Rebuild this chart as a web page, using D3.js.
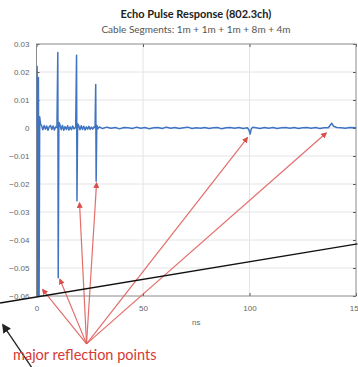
<!DOCTYPE html>
<html>
<head>
<meta charset="utf-8">
<script src="https://cdn.jsdelivr.net/npm/d3@7"></script>
<style>
  html, body { margin: 0; padding: 0; background: #fff; }
  svg { display: block; }
</style>
</head>
<body>
<div id="chart"></div>
<script>
// Echo response samples: time in ns, amplitude
const timeNs = [
  0, 0.3, 0.6, 0.9, 1.2, 1.5, 1.9, 2.4, 3, 3.6, 4.2, 4.8, 5.4, 6, 6.6, 7.2, 7.8, 8.4, 9, 9.6,
  10, 10.2, 10.5, 11, 11.6, 12.2, 12.8, 13.4, 14, 14.6, 15.2, 15.8, 16.4, 17, 17.6, 18.4,
  18.8, 19.0, 19.3, 19.8, 20.4, 21, 21.6, 22.2, 22.8, 23.4, 24, 24.6, 25.2, 25.8, 26.4, 27, 27.5,
  27.8, 28.0, 28.3, 28.8, 29.5, 31, 33, 35, 37, 39, 41, 43, 45, 47, 49, 51, 53, 55, 57, 59,
  61, 63, 65, 67, 69, 71, 73, 75, 77, 79, 81, 83, 85, 87, 89, 91, 93, 95, 97, 99,
  99.8, 100.3, 100.8, 101.5, 103, 105, 107, 109, 111, 113, 115, 117, 119, 121, 123, 125,
  127, 129, 131, 133, 135, 137, 137.8, 138.6, 139.5, 141, 143, 145, 147, 150
];
const amplitude = [
  0, 0.022, -0.066, 0.018, -0.066, 0.004, 0.0015, 0.0008, -0.0006, 0.0009, -0.0004, 0.0007, -0.0008, 0.0005, 0.0009, -0.0005, 0.0007, -0.0007, 0.0004, 0.0002,
  0.027, -0.0535, 0.002, 0.0012, -0.0006, 0.0009, -0.0008, 0.0005, -0.0005, 0.0008, -0.0007, 0.0004, -0.0006, 0.0007, -0.0003, 0.0002,
  0.026, -0.026, 0.0015, 0.0009, -0.0006, 0.0008, -0.0005, 0.0006, -0.0007, 0.0004, -0.0004, 0.0006, -0.0005, 0.0003, -0.0004, 0.0004, 0.0001,
  0.0155, -0.019, 0.001, -0.0003, 0.0004, -0.0002, 0.0003, -0.0001, 0.0002, -0.0003, 0.0002, 0.0001, -0.0002, 0.0003, -0.0001, 0.0002, -0.0003, 0.0001, 0.0002, -0.0002,
  0.0003, -0.0001, 0.0002, -0.0002, 0.0001, 0.0003, -0.0002, 0.0001, -0.0001, 0.0002, -0.0002, 0.0001, 0.0002, -0.0003, 0.0001, 0.0002, -0.0001, 0.0002, -0.0002, 0.0001,
  -0.0008, -0.0022, -0.0004, 0.0003, 0.0001, -0.0002, 0.0002, -0.0001, 0.0002, -0.0002, 0.0001, 0.0002, -0.0001, 0.0002, -0.0002, 0.0001,
  0.0002, -0.0001, 0.0002, -0.0002, 0.0001, 0.0001, 0.0009, 0.0017, 0.0006, 0.0002, 0.0001, -0.0001, 0.0002, 0.0001
];

const xTicks = [0, 50, 100, 150];
const yTicks = [-0.06, -0.05, -0.04, -0.03, -0.02, -0.01, 0, 0.01, 0.02, 0.03];

// Annotation arrows (data units): tips near each reflection, shared origin below the axis
const arrowOrigin = [23.5, -0.0771];
const arrowTips = [[2.9, -0.0577], [11, -0.0541], [20.2, -0.0268], [28.2, -0.0197], [99, -0.0035], [136, -0.0018]];
const blackLine = [[-17.1, -0.0625], [150.7, -0.0414]];
const blackArrow = [[-2.1, -0.0857], [-15.7, -0.0704]];

const W = 358, H = 367;
const margin = { top: 44, right: 2, bottom: 71, left: 36.5 };

const svg = d3.select('#chart').append('svg')
  .attr('width', W).attr('height', H);

const x = d3.scaleLinear().domain([0, 150]).range([margin.left, W - margin.right]);
const y = d3.scaleLinear().domain([-0.06, 0.03]).range([H - margin.bottom, margin.top]);

const defs = svg.append('defs');
defs.append('clipPath').attr('id', 'plot-clip')
  .append('rect')
  .attr('x', x(0)).attr('y', y(0.03))
  .attr('width', x(150) - x(0)).attr('height', y(-0.06) - y(0.03));

['red', 'black'].forEach(c => {
  defs.append('marker')
    .attr('id', 'head-' + c)
    .attr('viewBox', '0 0 10 10')
    .attr('refX', 8).attr('refY', 5)
    .attr('markerWidth', c === 'red' ? 5 : 7)
    .attr('markerHeight', c === 'red' ? 5 : 7)
    .attr('orient', 'auto')
    .append('path')
    .attr('d', 'M0,0 L10,5 L0,10 z')
    .attr('fill', c === 'red' ? '#d63a35' : '#222');
});

// grid
svg.append('g')
  .selectAll('line')
  .data(xTicks.slice(1, -1))
  .join('line')
  .attr('x1', d => x(d)).attr('x2', d => x(d))
  .attr('y1', y(0.03)).attr('y2', y(-0.06))
  .attr('stroke', '#e4e4e4').attr('stroke-width', 1);

svg.append('g')
  .selectAll('line')
  .data(yTicks.slice(1, -1))
  .join('line')
  .attr('x1', x(0)).attr('x2', x(150))
  .attr('y1', d => y(d)).attr('y2', d => y(d))
  .attr('stroke', '#e4e4e4').attr('stroke-width', 1);

// axes (inner ticks, Matlab style)
const axisStyle = g => {
  g.select('.domain').remove();
  g.selectAll('line').attr('stroke', '#555');
  g.selectAll('text').attr('fill', '#666').attr('font-size', '8px')
    .attr('font-family', 'Liberation Sans, Arial, sans-serif');
};

svg.append('g')
  .attr('transform', `translate(0,${y(-0.06)})`)
  .call(d3.axisBottom(x).tickValues(xTicks).tickSize(-3).tickPadding(9).tickFormat(d3.format('d')))
  .call(axisStyle);

svg.append('g')
  .attr('transform', `translate(0,${y(0.03)})`)
  .call(d3.axisTop(x).tickValues(xTicks).tickSize(-3).tickFormat(''))
  .call(axisStyle);

svg.append('g')
  .attr('transform', `translate(${x(0)},0)`)
  .call(d3.axisLeft(y).tickValues(yTicks).tickSize(-3).tickPadding(7).tickFormat(d => d === 0 ? '0' : d3.format('.2f')(d)))
  .call(axisStyle);

svg.append('g')
  .attr('transform', `translate(${x(150)},0)`)
  .call(d3.axisRight(y).tickValues(yTicks).tickSize(-3).tickFormat(''))
  .call(axisStyle);

// frame
svg.append('rect')
  .attr('x', x(0)).attr('y', y(0.03))
  .attr('width', x(150) - x(0)).attr('height', y(-0.06) - y(0.03))
  .attr('fill', 'none').attr('stroke', '#8a8a8a').attr('stroke-width', 1);

// echo trace
const points = timeNs.map((t, i) => [t, amplitude[i]]);
svg.append('path')
  .datum(points)
  .attr('clip-path', 'url(#plot-clip)')
  .attr('fill', 'none')
  .attr('stroke', '#3f74c2')
  .attr('stroke-width', 1.5)
  .attr('stroke-linejoin', 'round')
  .attr('d', d3.line().x(d => x(d[0])).y(d => y(d[1])));

// titles
svg.append('text')
  .attr('x', 196).attr('y', 18)
  .attr('text-anchor', 'middle')
  .attr('font-family', 'Lato, sans-serif').attr('font-weight', 'bold')
  .attr('font-size', '11px').attr('fill', '#222')
  .text('Echo Pulse Response (802.3ch)');

svg.append('text')
  .attr('x', 196).attr('y', 33)
  .attr('text-anchor', 'middle')
  .attr('font-family', 'Lato, sans-serif')
  .attr('font-size', '10px').attr('fill', '#555')
  .text('Cable Segments: 1m + 1m + 1m + 8m + 4m');

svg.append('text')
  .attr('x', (x(0) + x(150)) / 2).attr('y', 325)
  .attr('text-anchor', 'middle')
  .attr('font-family', 'Liberation Sans, Arial, sans-serif')
  .attr('font-size', '8px').attr('fill', '#666')
  .text('ns');

// annotations
svg.append('g')
  .selectAll('line')
  .data(arrowTips)
  .join('line')
  .attr('x1', x(arrowOrigin[0])).attr('y1', y(arrowOrigin[1]))
  .attr('x2', d => x(d[0])).attr('y2', d => y(d[1]))
  .attr('stroke', '#e0605c').attr('stroke-width', 1.2).attr('opacity', 0.9)
  .attr('marker-end', 'url(#head-red)');

svg.append('line')
  .attr('x1', x(blackLine[0][0])).attr('y1', y(blackLine[0][1]))
  .attr('x2', x(blackLine[1][0])).attr('y2', y(blackLine[1][1]))
  .attr('stroke', '#111').attr('stroke-width', 1.3);

svg.append('line')
  .attr('x1', x(blackArrow[0][0])).attr('y1', y(blackArrow[0][1]))
  .attr('x2', x(blackArrow[1][0])).attr('y2', y(blackArrow[1][1]))
  .attr('stroke', '#222').attr('stroke-width', 1.3)
  .attr('marker-end', 'url(#head-black)');

svg.append('text')
  .attr('x', 13).attr('y', 360)
  .attr('font-family', 'Lato, sans-serif')
  .attr('font-size', '14.5px').attr('fill', '#d63a35')
  .text('major reflection points');
</script>
</body>
</html>
